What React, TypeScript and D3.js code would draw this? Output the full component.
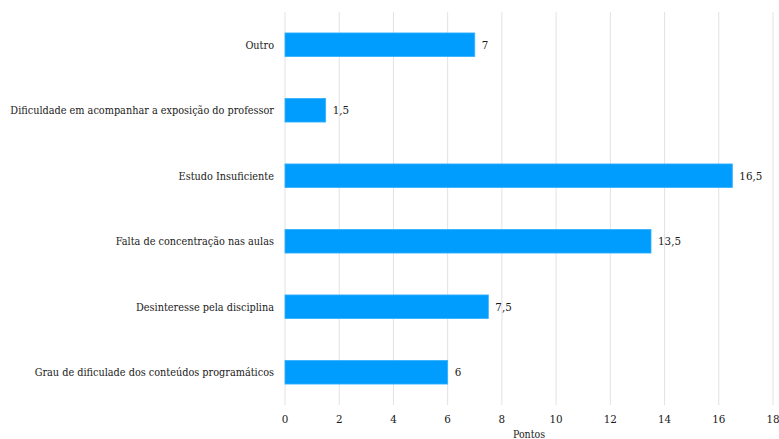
import React from "react";
import * as d3 from "d3";

const categories = [
  "Outro",
  "Dificuldade em acompanhar a exposição do professor",
  "Estudo Insuficiente",
  "Falta de concentração nas aulas",
  "Desinteresse pela disciplina",
  "Grau de dificulade dos conteúdos programáticos",
];
const values = [7, 1.5, 16.5, 13.5, 7.5, 6];
const valueLabels = ["7", "1,5", "16,5", "13,5", "7,5", "6"];
const xTicks = [0, 2, 4, 6, 8, 10, 12, 14, 16, 18];
const xTitle = "Pontos";

const W = 779;
const H = 439;
const FONT = "'DejaVu Serif Condensed', 'DejaVu Serif', serif";

export default function App() {
  const x = d3.scaleLinear().domain([0, 18]).range([285, 773]);
  const y = d3
    .scaleBand<string>()
    .domain(categories)
    .range([12, 405])
    .paddingInner(0.64)
    .paddingOuter(0.32);
  const gridTop = 12;
  const gridBottom = 405;
  const txt = { fontFamily: FONT, fontStretch: "condensed" as const };

  return (
    <svg
      width={W}
      height={H}
      style={{ position: "absolute", left: 0, top: 0, background: "#fff" }}
    >
      <rect x={0} y={0} width={W} height={H} fill="#fff" />
      {xTicks.map((t) => (
        <g key={t}>
          <line
            x1={x(t)}
            x2={x(t)}
            y1={gridTop}
            y2={gridBottom}
            stroke="#e2e2e2"
            strokeWidth={1}
          />
          <text
            x={x(t)}
            y={423}
            textAnchor="middle"
            fontSize={11.5}
            fill="#1a1a1a"
            style={txt}
          >
            {t}
          </text>
        </g>
      ))}
      {categories.map((c, i) => {
        const yy = y(c)!;
        const bw = y.bandwidth();
        return (
          <g key={c}>
            <rect
              x={x(0)}
              y={yy}
              width={x(values[i]) - x(0)}
              height={bw}
              fill="#009dff"
              stroke="#33b0ff"
              strokeWidth={0.8}
            />
            <text
              x={274}
              y={yy + bw / 2}
              dy="0.35em"
              textAnchor="end"
              fontSize={10.8}
              fill="#1a1a1a"
              style={txt}
            >
              {c}
            </text>
            <text
              x={x(values[i]) + 7}
              y={yy + bw / 2}
              dy="0.35em"
              textAnchor="start"
              fontSize={11.5}
              fill="#1a1a1a"
              style={txt}
            >
              {valueLabels[i]}
            </text>
          </g>
        );
      })}
      <text
        x={(x(0) + x(18)) / 2}
        y={438}
        textAnchor="middle"
        fontSize={10.5}
        fill="#1a1a1a"
        style={txt}
      >
        {xTitle}
      </text>
    </svg>
  );
}
